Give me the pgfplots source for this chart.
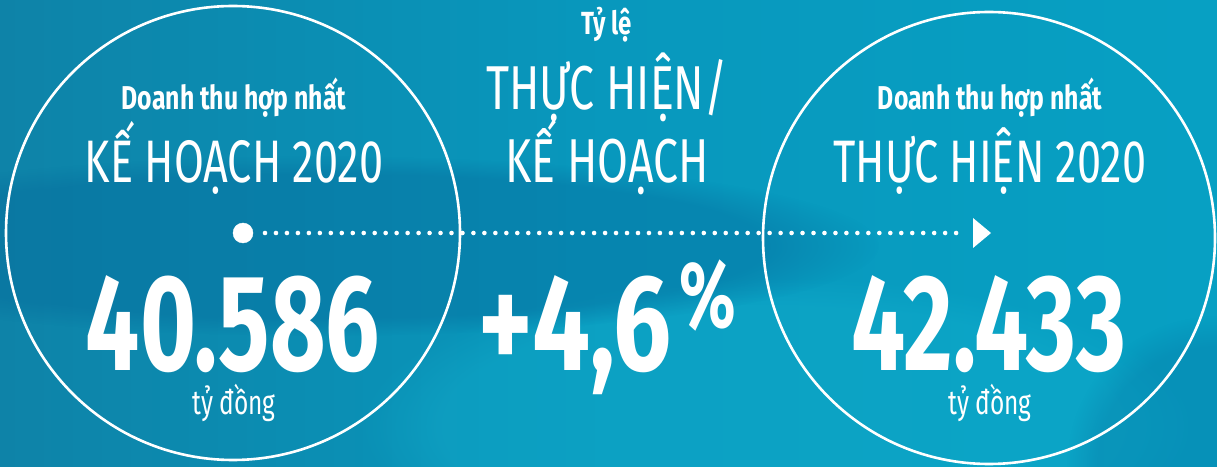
\documentclass[border=0pt]{standalone}
\usepackage{fontspec}
\usepackage{pgfplots}
\pgfplotsset{compat=1.18}
\usetikzlibrary{fadings}
\newfontfamily\dinb[FakeStretch=0.70]{Fira Sans}
\newfontfamily\dinbw[FakeStretch=0.75]{Fira Sans}
\newfontfamily\dinbs[FakeStretch=0.75]{Fira Sans}
\newfontfamily\dinl[FakeStretch=0.72]{Fira Sans}
\definecolor{bgA}{HTML}{0E83A8}
\definecolor{bgB}{HTML}{0898BD}
\definecolor{bgC}{HTML}{07A0C3}
\definecolor{bgD}{HTML}{05689A}
\definecolor{bgL}{HTML}{14B2D0}
\begin{document}
\begin{tikzpicture}
\begin{axis}[
  scale only axis, width=1217pt, height=466pt,
  xmin=0, xmax=1217, ymin=0, ymax=466,
  hide axis, clip=false]
% background
\fill[left color=bgA, right color=bgC, middle color=bgB] (axis cs:0,0) rectangle (axis cs:1217,466);
\begin{scope}
\clip (axis cs:0,0) rectangle (axis cs:1217,466);
\fill[overlay, bgL, opacity=0.35, path fading=circle with fuzzy edge 20 percent] (axis cs:780,40) ellipse [x radius=420, y radius=150];
\fill[overlay, bgD, opacity=0.38, path fading=circle with fuzzy edge 20 percent] (axis cs:320,220) ellipse [x radius=560, y radius=90];
\fill[overlay, bgD, opacity=0.25, path fading=circle with fuzzy edge 20 percent] (axis cs:1217,0) ellipse [x radius=150, y radius=150];
\end{scope}
% circles
\draw[white, line width=2.6pt] (axis cs:233,233) circle [radius=227];
\draw[white, line width=2.6pt] (axis cs:989,228) circle [radius=226];
% dotted connector
\addplot[white, line width=4.6pt, line cap=round, dash pattern=on 0pt off 10.97pt] coordinates {(265,233) (964,233)};
\addplot[white, only marks, mark=*, mark size=10pt] coordinates {(243,233)};
\addplot[white, fill=white, draw=none] coordinates {(973,248) (991,233) (973,218)} -- cycle;
% left circle text
\node[anchor=base, white, inner sep=0] at (axis cs:234,356) {\dinbs\bfseries\fontsize{33}{33}\selectfont Doanh thu hợp nhất};
\node[anchor=base, white, inner sep=0] at (axis cs:234,283) {\dinl\fontsize{60}{60}\selectfont KẾ HOẠCH 2020};
\node[anchor=base, white, inner sep=0] at (axis cs:233,96) {\dinb\bfseries\fontsize{137}{137}\selectfont 40.586};
\node[anchor=base, white, inner sep=0] at (axis cs:234,52) {\dinl\fontsize{34}{34}\selectfont tỷ đồng};
% middle text
\node[anchor=base, white, inner sep=0] at (axis cs:607,431) {\dinbs\bfseries\fontsize{32}{32}\selectfont Tỷ lệ};
\node[anchor=base, white, inner sep=0] at (axis cs:607,356) {\dinl\fontsize{62}{62}\selectfont THỰC HIỆN/};
\node[anchor=base, white, inner sep=0] at (axis cs:607,283) {\dinl\fontsize{62}{62}\selectfont KẾ HOẠCH};
\node[anchor=base east, white, inner sep=0] at (axis cs:672,96) {\dinbw\bfseries\fontsize{137}{137}\selectfont +4,6};
\node[anchor=base west, white, inner sep=0] at (axis cs:679,139) {\dinb\bfseries\fontsize{94}{94}\selectfont\%};
% right circle text
\node[anchor=base, white, inner sep=0] at (axis cs:990,356) {\dinbs\bfseries\fontsize{33}{33}\selectfont Doanh thu hợp nhất};
\node[anchor=base, white, inner sep=0] at (axis cs:990,283) {\dinl\fontsize{60}{60}\selectfont THỰC HIỆN 2020};
\node[anchor=base, white, inner sep=0] at (axis cs:989,96) {\dinb\bfseries\fontsize{137}{137}\selectfont 42.433};
\node[anchor=base, white, inner sep=0] at (axis cs:990,52) {\dinl\fontsize{34}{34}\selectfont tỷ đồng};
\end{axis}
\end{tikzpicture}
\end{document}
